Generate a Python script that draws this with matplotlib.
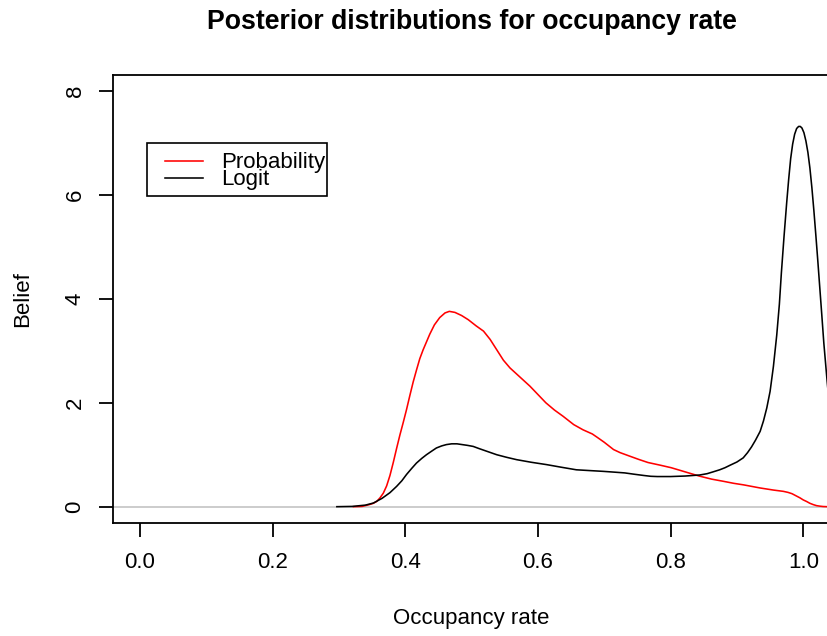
import matplotlib
matplotlib.use("Agg")
import matplotlib.pyplot as plt
from matplotlib.patches import Rectangle
from matplotlib.lines import Line2D

# ---- data ----
prob_x = [0.322, 0.335, 0.346, 0.352, 0.357, 0.362, 0.367, 0.372, 0.377, 0.382,
          0.387, 0.392, 0.397, 0.402, 0.407, 0.412, 0.417, 0.422, 0.427, 0.432,
          0.437, 0.444, 0.452, 0.460, 0.4665, 0.475, 0.485, 0.495, 0.507, 0.518,
          0.528, 0.538, 0.548, 0.558, 0.570, 0.588, 0.600, 0.612, 0.625, 0.638,
          0.654, 0.668, 0.682, 0.690, 0.700, 0.714, 0.724, 0.739, 0.752, 0.766,
          0.784, 0.801, 0.822, 0.843, 0.862, 0.879, 0.895, 0.910, 0.935, 0.955,
          0.970, 0.977, 0.983, 0.989, 0.995, 1.000, 1.005, 1.010, 1.015, 1.020,
          1.025, 1.030, 1.036]
prob_y = [0.0, 0.005, 0.04, 0.065, 0.10, 0.17, 0.26, 0.40, 0.60, 0.85,
          1.12, 1.38, 1.62, 1.87, 2.14, 2.40, 2.63, 2.85, 3.02, 3.17,
          3.32, 3.50, 3.64, 3.73, 3.76, 3.74, 3.68, 3.60, 3.48, 3.38,
          3.22, 3.02, 2.82, 2.67, 2.53, 2.32, 2.16, 2.00, 1.86, 1.74,
          1.58, 1.48, 1.40, 1.33, 1.24, 1.10, 1.04, 0.97, 0.91, 0.85,
          0.80, 0.75, 0.67, 0.59, 0.53, 0.49, 0.45, 0.42, 0.36, 0.32,
          0.295, 0.275, 0.25, 0.21, 0.17, 0.13, 0.10, 0.065, 0.04, 0.02,
          0.01, 0.003, 0.0]

logit_x = [0.297, 0.320, 0.340, 0.352, 0.365, 0.377, 0.387, 0.395, 0.402, 0.410,
           0.417, 0.425, 0.432, 0.440, 0.447, 0.455, 0.462, 0.470, 0.478, 0.486,
           0.494, 0.5025, 0.511, 0.520, 0.529, 0.538, 0.553, 0.568, 0.590, 0.613,
           0.635, 0.658, 0.678, 0.6985, 0.715, 0.731, 0.745, 0.760, 0.770, 0.780,
           0.800, 0.822, 0.844, 0.855, 0.864, 0.874, 0.882, 0.890, 0.900, 0.9095,
           0.916, 0.922, 0.928, 0.935, 0.940, 0.945, 0.950, 0.955, 0.960, 0.964,
           0.967, 0.971, 0.975, 0.978, 0.981, 0.984, 0.987, 0.990, 0.993, 0.9955,
           0.998, 1.001, 1.004, 1.007, 1.010, 1.013, 1.016, 1.019, 1.022, 1.025,
           1.028, 1.031, 1.036, 1.045]
logit_y = [0.0, 0.005, 0.03, 0.07, 0.16, 0.27, 0.39, 0.50, 0.62, 0.74,
           0.84, 0.93, 1.00, 1.07, 1.13, 1.17, 1.195, 1.21, 1.21, 1.195,
           1.18, 1.16, 1.12, 1.08, 1.04, 1.00, 0.95, 0.905, 0.855, 0.81,
           0.76, 0.71, 0.695, 0.68, 0.665, 0.65, 0.625, 0.60, 0.585, 0.58,
           0.58, 0.59, 0.61, 0.635, 0.67, 0.71, 0.75, 0.80, 0.86, 0.94,
           1.04, 1.15, 1.28, 1.45, 1.65, 1.90, 2.22, 2.70, 3.30, 3.90,
           4.50, 5.20, 5.85, 6.30, 6.70, 6.98, 7.17, 7.28, 7.32, 7.32,
           7.29, 7.20, 7.04, 6.82, 6.52, 6.14, 5.70, 5.22, 4.72, 4.20,
           3.68, 3.15, 2.41, 1.20]

series_labels = ["Probability", "Logit"]
series_colors = ["red", "black"]
x_ticks = [0.0, 0.2, 0.4, 0.6, 0.8, 1.0]
x_ticklabels = ["0.0", "0.2", "0.4", "0.6", "0.8", "1.0"]
y_ticks = [0, 2, 4, 6, 8]
y_ticklabels = ["0", "2", "4", "6", "8"]
title = "Posterior distributions for occupancy rate"
xlabel = "Occupancy rate"
ylabel = "Belief"

# ---- figure ----
W, H = 828, 636
plt.rcParams['font.family'] = ['Liberation Sans', 'DejaVu Sans']
FS = 16
fig = plt.figure(figsize=(W / 100, H / 100), dpi=100)

L, R, T, B = 113.3, 829.8, 74.5, 523.3
ax = fig.add_axes([L / W, 1 - B / H, (R - L) / W, (B - T) / H])
ax.set_xlim(-0.04, 1.04)
ax.set_ylim(-0.32, 8.32)

ax.axhline(0, color="#BEBEBE", lw=1.1, zorder=1)
ax.plot(prob_x, prob_y, color=series_colors[0], lw=1.15, zorder=2,
        solid_joinstyle="round")
ax.plot(logit_x, logit_y, color=series_colors[1], lw=1.15, zorder=3,
        solid_joinstyle="round")

for s in ax.spines.values():
    s.set_linewidth(1.3)
    s.set_color("black")

ax.set_xticks(x_ticks)
ax.set_xticklabels(x_ticklabels, fontsize=FS)
ax.set_yticks(y_ticks)
ax.set_yticklabels(y_ticklabels, fontsize=FS, rotation=90, va="center")
ax.tick_params(axis="both", direction="out", length=10, width=1.3, color="black")
ax.tick_params(axis="x", pad=11)
ax.tick_params(axis="y", pad=10)

ax.set_xlabel(xlabel, fontsize=FS)
ax.xaxis.label.set_va("baseline")
ax.xaxis.set_label_coords(0.5, ((H - 624) - (H - B)) / (B - T))
ax.set_ylabel(ylabel, fontsize=FS)
ax.yaxis.label.set_va("baseline")
ax.yaxis.set_label_coords((28.3 - L) / (R - L), 0.5)

fig.text((L + R) / 2 / W, 1 - 29.3 / H, title, ha="center", va="baseline",
         fontsize=19.2, fontweight="bold")

# ---- legend (R style) ----
def fx(px):
    return px / W

def fy(py):
    return 1 - py / H

fig.add_artist(Rectangle((fx(146.7), fy(196.0)), fx(326.7) - fx(146.7), fy(143.3) - fy(196.0),
                         transform=fig.transFigure, facecolor="white", edgecolor="black",
                         lw=1.2, zorder=5))
for i, (lab, col) in enumerate(zip(series_labels, series_colors)):
    yl = 160.5 + i * 17.3
    fig.add_artist(Line2D([fx(165), fx(202.7)], [fy(yl), fy(yl)], transform=fig.transFigure,
                          color=col, lw=1.15, zorder=6))
    fig.text(fx(221.5), fy(168.3 + i * 16.9), lab, ha="left", va="baseline",
             fontsize=FS, zorder=6)

fig.savefig("out.png", dpi=100)
